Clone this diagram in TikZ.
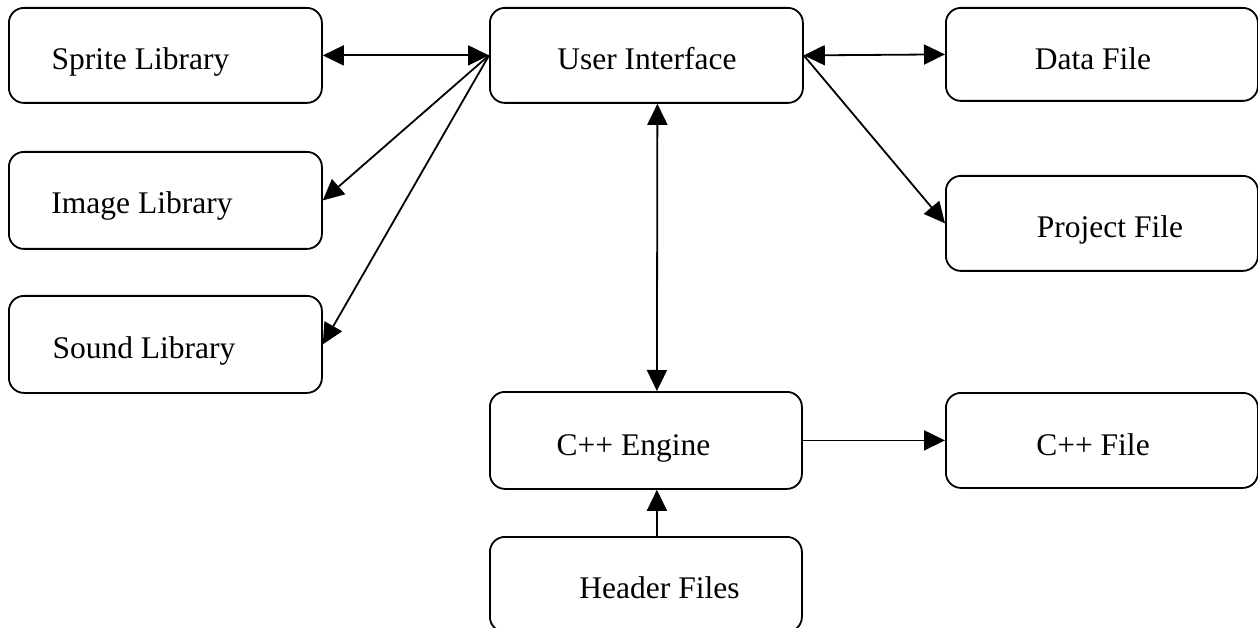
\documentclass[tikz,border=0pt]{standalone}
\usepackage{fontspec}
\setmainfont{Liberation Serif}
\usetikzlibrary{arrows.meta}
\tikzset{
  box/.style={draw, line width=1.8pt, rounded corners=15pt, inner sep=0pt, anchor=north west},
  lbl/.style={font=\fontsize{31.5}{36}\selectfont, inner sep=0pt, anchor=base},
  con/.style={line width=1.8pt, -{Triangle[length=21pt,width=20pt]}},
  bicon/.style={line width=1.8pt, {Triangle[length=21pt,width=20pt]}-{Triangle[length=21pt,width=20pt]}}
}
\begin{document}
\begin{tikzpicture}[x=1pt,y=-1pt]
\useasboundingbox (0,0) rectangle (1258,628);
% boxes
\node[box, minimum width=313pt, minimum height=95pt] (sprite) at (8,7) {};
\node[box, minimum width=313pt, minimum height=97pt] (image) at (8,151) {};
\node[box, minimum width=313pt, minimum height=97pt] (sound) at (8,295) {};
\node[box, minimum width=313pt, minimum height=95pt] (ui) at (489,7) {};
\node[box, minimum width=312pt, minimum height=97pt] (eng) at (489,391) {};
\node[box, minimum width=312pt, minimum height=95pt] (hdr) at (489,536) {};
\node[box, minimum width=312pt, minimum height=93pt] (data) at (945,7) {};
\node[box, minimum width=312pt, minimum height=95pt] (proj) at (945,175) {};
\node[box, minimum width=312pt, minimum height=95pt] (cfile) at (945,392) {};
% labels
\node[lbl] (sprite-t) at (140.5,70) {Sprite Library};
\node[lbl] (image-t) at (142,214) {Image Library};
\node[lbl] (sound-t) at (144,358) {Sound Library};
\node[lbl] (ui-t) at (647,70) {User Interface};
\node[lbl] (eng-t) at (633.5,455) {C++ Engine};
\node[lbl] (hdr-t) at (659.5,598) {Header Files};
\node[lbl] (data-t) at (1093,70) {Data File};
\node[lbl] (proj-t) at (1110,238) {Project File};
\node[lbl] (cfile-t) at (1093,455) {C++ File};
% connectors
\draw[bicon] (sprite.east) -- (ui.west);
\draw[bicon] (ui.east) -- (data.west);
\draw[con] (ui.west) -- (image.east);
\draw[con] (ui.west) -- (sound.east);
\draw[con] (ui.east) -- (proj.west);
\draw[bicon] ([xshift=11pt]ui.south) -- ([xshift=11pt]eng.north);
\draw[con] (eng.east) -- (cfile.west);
\draw[con] ([xshift=11pt]hdr.north) -- ([xshift=11pt]eng.south);
\end{tikzpicture}
\end{document}
